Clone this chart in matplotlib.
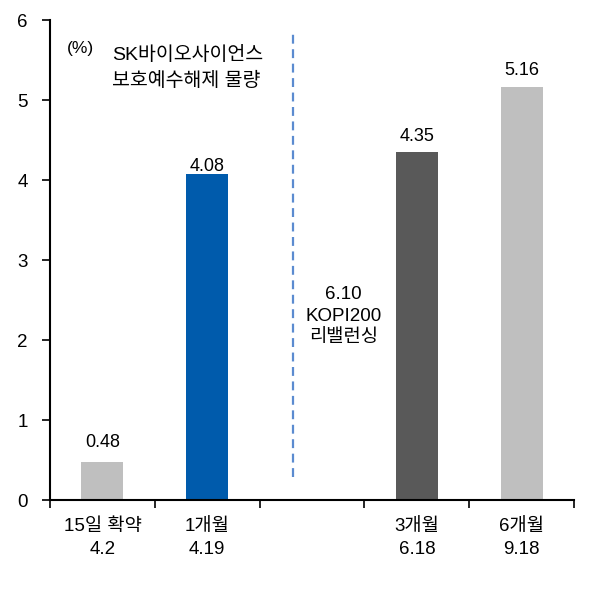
import numpy as np
import matplotlib.pyplot as plt

plt.rcParams['font.family'] = ['Liberation Sans', 'Noto Sans CJK KR', 'DejaVu Sans']

categories = ['15일 확약\n4.2', '1개월\n4.19', '', '3개월\n6.18', '6개월\n9.18']
values = [0.48, 4.08, np.nan, 4.35, 5.16]
labels = ['0.48', '4.08', '', '4.35', '5.16']
colors = ['#BFBFBF', '#005BAC', '#FFFFFF', '#595959', '#BFBFBF']
label_pad = [8, -1, 0, 5, 6]  # points above bar top

fig = plt.figure(figsize=(6.03, 5.92), dpi=100)
ax = fig.add_axes([0.083, 0.155, 0.869, 0.811])

x = np.arange(len(categories))
ax.bar(x, values, width=0.4, color=colors)

for xi, v, lab, pad in zip(x, values, labels, label_pad):
    if lab:
        ax.annotate(lab, (xi, v), xytext=(0, pad), textcoords='offset points',
                    ha='center', va='bottom', fontsize=13)

# divider for the KOSPI200 rebalancing
ax.plot([1.82, 1.82], [0.29, 5.85], color='#5B8BD0', linestyle=(0, (4, 2.5)), linewidth=1.6)
ax.text(2.3, 2.3, '6.10\nKOPI200\n리밸런싱', ha='center', va='center', fontsize=13.5,
        linespacing=1.35)

ax.text(0.032, 0.94, '(%)', transform=ax.transAxes, fontsize=12.5, va='center')
ax.text(0.118, 0.927, 'SK바이오사이언스', transform=ax.transAxes, fontsize=14, va='center')
ax.text(0.118, 0.873, '보호예수해제 물량', transform=ax.transAxes, fontsize=14, va='center')

ax.set_xlim(-0.5, 4.5)
ax.set_ylim(0, 6)
ax.set_yticks(range(7))
ax.set_xticks(np.arange(-0.5, 5, 1))
ax.set_xticklabels([])
ax.set_xticks(x, minor=True)
ax.set_xticklabels(categories, minor=True, fontsize=13.5, linespacing=1.45)
ax.tick_params(axis='x', which='minor', length=0, pad=13)
ax.tick_params(axis='x', which='major', direction='out', length=6, width=1.2)
ax.tick_params(axis='y', direction='out', length=6, width=1.2, labelsize=13.5, pad=10)

for side in ['top', 'right']:
    ax.spines[side].set_visible(False)
for side in ['left', 'bottom']:
    ax.spines[side].set_linewidth(1.5)

plt.savefig('out.png', dpi=100)
